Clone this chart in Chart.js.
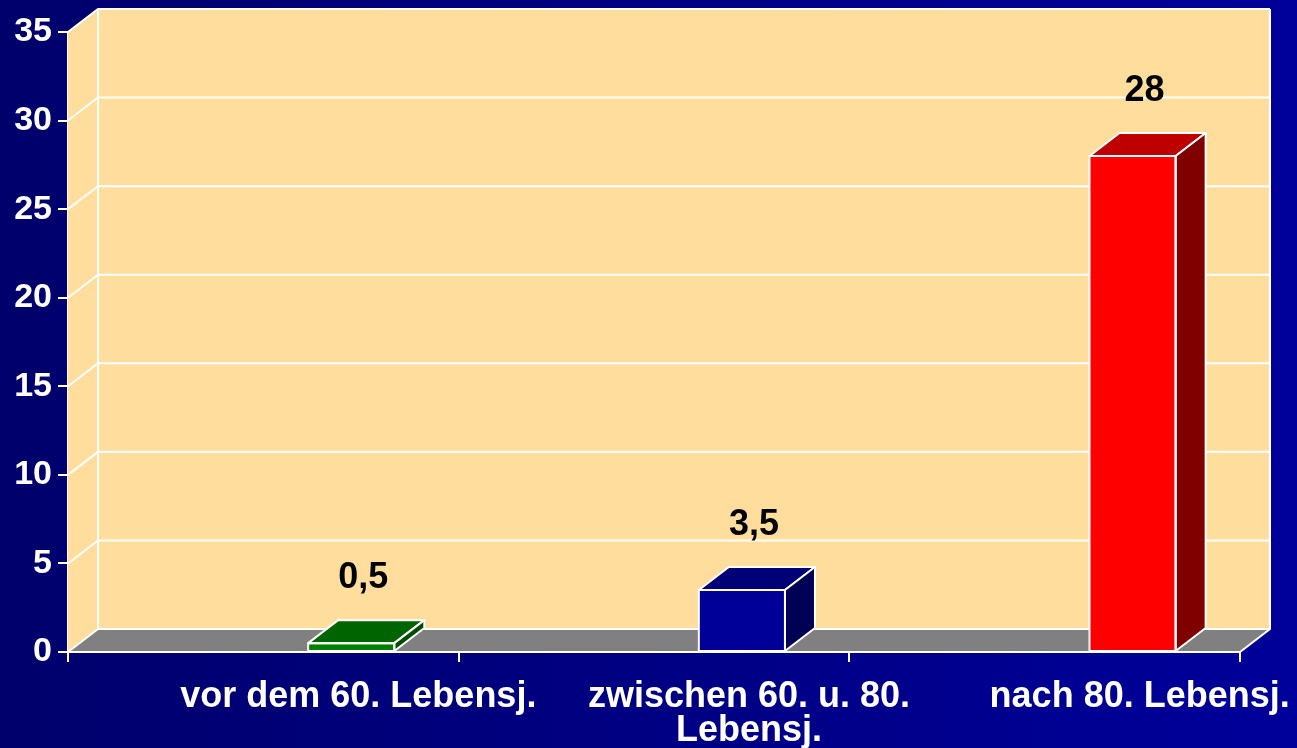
<!DOCTYPE html>
<html lang="de">
  <head>
    <meta charset="UTF-8" />
    <title>Lebensjahre</title>
    <script src="https://cdn.jsdelivr.net/npm/chart.js"></script>
    <style>
      html, body { margin: 0; padding: 0; background: #000080; }
      #wrap { width: 1297px; height: 748px; }
    </style>
  </head>
  <body>
    <div id="wrap"><canvas id="myChart" width="1297" height="748"></canvas></div>
    <script>
      const categories = [
        "vor dem 60. Lebensj.",
        ["zwischen 60. u. 80.", "Lebensj."],
        "nach 80. Lebensj.",
      ];
      const values = [0.5, 3.5, 28];
      const yTicks = [0, 5, 10, 15, 20, 25, 30, 35];

      const frontColors = ["#008000", "#000099", "#ff0000"];
      const topColors = ["#006400", "#000077", "#bf0000"];
      const sideColors = ["#004d00", "#000055", "#800000"];

      // depth of the 3d look
      const DX = 30;
      const DY = 23;

      const font = "'Liberation Sans', Arial, sans-serif";

      function fmt(v) {
        return String(v).replace(".", ",");
      }

      const bgPlugin = {
        id: "bg",
        beforeDraw(chart) {
          const c = chart.ctx;
          const g = c.createLinearGradient(0, 0, chart.width, 0);
          g.addColorStop(0, "#00006c");
          g.addColorStop(1, "#00009a");
          c.save();
          c.fillStyle = g;
          c.fillRect(0, 0, chart.width, chart.height);
          c.restore();
        },
      };

      const wallPlugin = {
        id: "wall",
        beforeDatasetsDraw(chart) {
          const c = chart.ctx;
          const x = chart.scales.x;
          const y = chart.scales.y;
          const l = x.left, r = x.right;
          const top = y.getPixelForValue(yTicks[yTicks.length - 1]);
          const bot = y.getPixelForValue(0);
          c.save();
          c.fillStyle = "#ffdd9c";
          // side wall + back wall
          c.beginPath();
          c.moveTo(l, top);
          c.lineTo(l + DX, top - DY);
          c.lineTo(r + DX, top - DY);
          c.lineTo(r + DX, bot - DY);
          c.lineTo(l, bot);
          c.closePath();
          c.fill();
          // floor
          c.fillStyle = "#808080";
          c.beginPath();
          c.moveTo(l, bot);
          c.lineTo(l + DX, bot - DY);
          c.lineTo(r + DX, bot - DY);
          c.lineTo(r, bot);
          c.closePath();
          c.fill();

          c.strokeStyle = "#ffffff";
          c.lineWidth = 2;
          yTicks.forEach((t) => {
            const py = y.getPixelForValue(t);
            c.beginPath();
            c.moveTo(l, py);
            c.lineTo(l + DX, py - DY);
            c.lineTo(r + DX, py - DY);
            c.stroke();
          });
          c.beginPath();
          c.moveTo(l + DX, top - DY);
          c.lineTo(l + DX, bot - DY);
          c.moveTo(r + DX, top - DY);
          c.lineTo(r + DX, bot - DY);
          c.lineTo(r, bot);
          c.lineTo(l, bot);
          c.stroke();
          c.restore();
        },
        afterDatasetsDraw(chart) {
          const c = chart.ctx;
          const meta = chart.getDatasetMeta(1);
          c.save();
          c.strokeStyle = "#ffffff";
          c.lineWidth = 2;
          c.lineJoin = "round";
          meta.data.forEach((bar, i) => {
            const p = bar.getProps(["x", "y", "base", "width"], true);
            const bl = p.x - p.width / 2;
            const br = p.x + p.width / 2;
            // top face
            c.fillStyle = topColors[i];
            c.beginPath();
            c.moveTo(bl, p.y);
            c.lineTo(bl + DX, p.y - DY);
            c.lineTo(br + DX, p.y - DY);
            c.lineTo(br, p.y);
            c.closePath();
            c.fill();
            c.stroke();
            // side face
            c.fillStyle = sideColors[i];
            c.beginPath();
            c.moveTo(br, p.y);
            c.lineTo(br + DX, p.y - DY);
            c.lineTo(br + DX, p.base - DY);
            c.lineTo(br, p.base);
            c.closePath();
            c.fill();
            c.stroke();
            // front outline
            c.strokeRect(bl, p.y, p.width, p.base - p.y);

            c.fillStyle = "#000000";
            c.font = "bold 36px " + font;
            c.textAlign = "center";
            c.textBaseline = "alphabetic";
            c.fillText(fmt(values[i]), p.x + DX / 2 - 3, p.y - 55);
          });
          c.restore();
        },
      };

      const ctx = document.getElementById("myChart").getContext("2d");
      const myChart = new Chart(ctx, {
        type: "bar",
        data: {
          labels: categories,
          datasets: [
            {
              // empty first slot pushes the bars right like the original
              data: values.map(() => null),
            },
            {
              data: values,
              backgroundColor: frontColors,
              borderColor: "#ffffff",
              borderWidth: 0,
            },
          ],
        },
        options: {
          responsive: false,
          animation: false,
          devicePixelRatio: 1,
          categoryPercentage: 0.9,
          barPercentage: 0.49,
          layout: { padding: { top: 32, right: 57, left: 0, bottom: 0 } },
          plugins: {
            legend: { display: false },
            tooltip: { enabled: false },
          },
          scales: {
            x: {
              grid: {
                offset: true,
                drawOnChartArea: false,
                color: "#ffffff",
                lineWidth: 2,
                tickLength: 10,
              },
              border: { color: "#ffffff", width: 2 },
              ticks: {
                color: "#ffffff",
                font: { family: font, size: 36, weight: "bold", lineHeight: 0.92 },
                labelOffset: 95,
                maxRotation: 0,
                autoSkip: false,
                padding: 19,
              },
              afterFit(scale) {
                scale.height = 96;
              },
            },
            y: {
              min: 0,
              max: 35,
              grid: {
                drawOnChartArea: false,
                color: "#ffffff",
                lineWidth: 2,
                tickLength: 10,
              },
              border: { color: "#ffffff", width: 2 },
              ticks: {
                stepSize: 5,
                color: "#ffffff",
                font: { family: font, size: 34, weight: "bold" },
                padding: 6,
              },
              afterFit(scale) {
                scale.width = 68;
              },
            },
          },
        },
        plugins: [bgPlugin, wallPlugin],
      });
    </script>
  </body>
</html>
